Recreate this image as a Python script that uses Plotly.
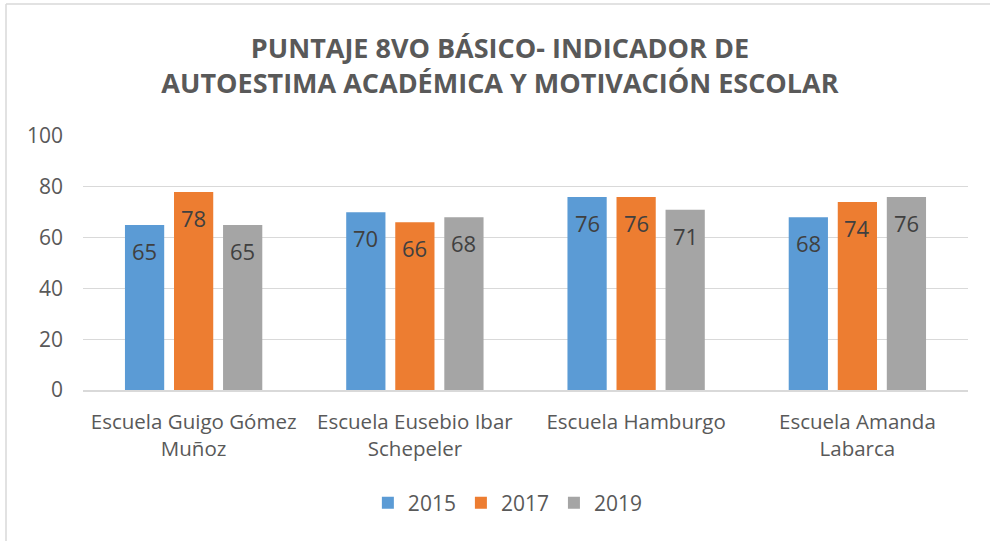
import plotly.graph_objects as go

categories = ["Escuela Guigo Gómez<br>Muñoz", "Escuela Eusebio Ibar<br>Schepeler",
              "Escuela Hamburgo", "Escuela Amanda<br>Labarca"]
years = ["2015", "2017", "2019"]
values_2015 = [65, 70, 76, 68]
values_2017 = [78, 66, 76, 74]
values_2019 = [65, 68, 71, 76]
colors = ["#5B9BD5", "#ED7D31", "#A5A5A5"]
yticks = [0, 20, 40, 60, 80, 100]

series = [values_2015, values_2017, values_2019]

fig = go.Figure()
for name, vals, col in zip(years, series, colors):
    fig.add_trace(go.Bar(
        x=categories, y=vals, name=name,
        marker=dict(color=col, line=dict(width=0)),
    ))

# data labels placed just inside the top of each bar
bar_pitch_px = 49
for i, vals in enumerate(series):
    for cat, v in zip(categories, vals):
        fig.add_annotation(
            x=cat, y=v, text=str(v), showarrow=False,
            xshift=(i - 1) * bar_pitch_px, yanchor="top", yshift=-9,
            font=dict(family="Open Sans", size=22, color="#404040"),
        )

fig.update_layout(
    width=990, height=541,
    margin=dict(l=83, r=22, t=136, b=151, autoexpand=False),
    paper_bgcolor="white", plot_bgcolor="white",
    barmode="group", bargap=0.335, bargroupgap=0.2,
    font=dict(family="Open Sans", color="#595959"),
    title=dict(
        text="PUNTAJE 8VO BÁSICO- INDICADOR DE<br>AUTOESTIMA ACADÉMICA Y MOTIVACIÓN ESCOLAR",
        x=0.505, xref="container", xanchor="center",
        y=1 - 58 / 541, yref="container", yanchor="middle",
        font=dict(family="Open Sans", size=27, color="#595959", weight="bold"),
    ),
    legend=dict(
        orientation="h", x=0.513, xref="container", xanchor="center",
        y=1 - 503 / 541, yref="container", yanchor="middle",
        font=dict(family="Open Sans", size=21, color="#595959"),
        itemwidth=30, traceorder="normal",
    ),
    showlegend=True,
)
fig.update_yaxes(
    range=[0, 100], tickvals=yticks, showgrid=True, gridcolor="#D9D9D9", gridwidth=1,
    zeroline=False, showline=False, automargin=False,
    tickfont=dict(family="Open Sans", size=21, color="#595959"),
    ticklabelstandoff=19,
)
fig.update_xaxes(
    showline=True, linecolor="#D9D9D9", linewidth=1.5, automargin=False,
    tickfont=dict(family="Open Sans", size=20.5, color="#595959"),
    ticklabelstandoff=13,
)
# chart-area frame (left and top edges visible in reference)
fx = (6 - 83) / 885
fy = (541 - 4 - 151) / 254
fig.add_shape(type="line", xref="paper", yref="paper",
              x0=fx, x1=fx, y0=-1.0, y1=fy,
              line=dict(color="#D9D9D9", width=1.5))
fig.add_shape(type="line", xref="paper", yref="paper",
              x0=fx, x1=(1000 - 83) / 885, y0=fy, y1=fy,
              line=dict(color="#D9D9D9", width=1.5))

fig.write_html("out.html", config={"displayModeBar": False},
               post_script="document.body.style.margin='0';document.body.style.overflow='hidden';")
